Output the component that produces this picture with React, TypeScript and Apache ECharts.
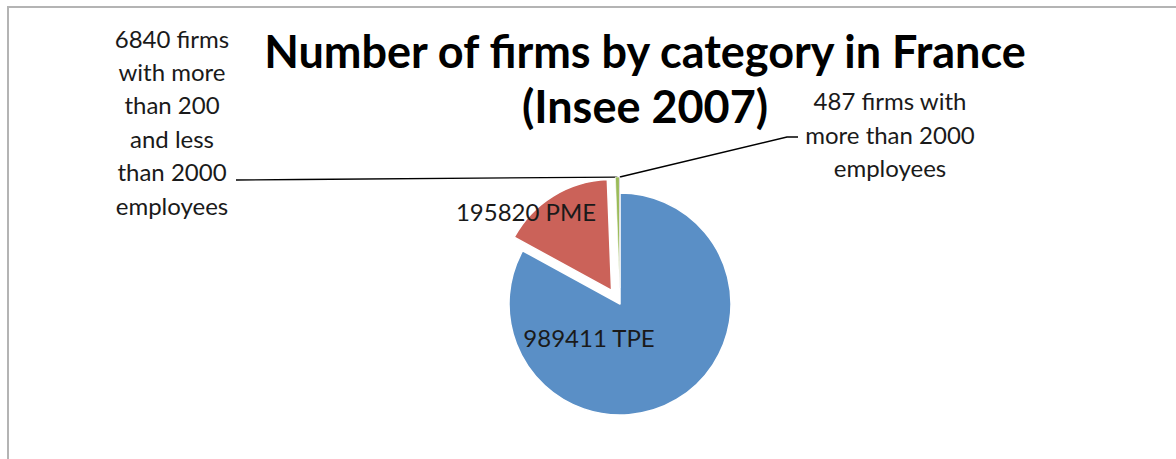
import React, { useEffect, useRef } from "react";
import * as echarts from "echarts";

const categories = ["TPE", "PME", "firms with more than 200 and less than 2000 employees", "firms with more than 2000 employees"];
const values = [989411, 195820, 6840, 487];
const exploded = [false, true, true, true];
const labelTexts = [
  "989411 TPE",
  "195820 PME",
  "6840 firms\nwith more\nthan 200\nand less\nthan 2000\nemployees",
  "487 firms with\nmore than 2000\nemployees",
];
const colors = ["#5A8FC6", "#CB6259", "#9BBB59", "#8064A2"];
const borderWidths = [1.5, 1.5, 0.6, 0.3];
const titleText = "Number of firms by category in France\n(Insee 2007)";

const CENTER = [620, 304];
const RADIUS = 111;
const OFFSET = 16;
// label anchor positions (center of text block)
const labelPos = [
  [589, 337.5],
  [526, 211],
  [172, 121.5],
  [890, 134],
];
const leaderEnds = [
  null,
  null,
  [[300, 179.5], [236, 180]],
  [[787, 137], [798, 137]],
];

function midAngle(i: number) {
  const total = values.reduce((a, b) => a + b, 0);
  let cum = 0;
  for (let k = 0; k < i; k++) cum += values[k];
  return ((cum + values[i] / 2) / total) * Math.PI * 2;
}

function sliceCenter(i: number) {
  const d = exploded[i] ? OFFSET : 0;
  const a = midAngle(i);
  return [CENTER[0] + d * Math.sin(a), CENTER[1] - d * Math.cos(a)];
}

function outerPoint(i: number) {
  const a = midAngle(i);
  const c = sliceCenter(i);
  return [c[0] + RADIUS * Math.sin(a), c[1] - RADIUS * Math.cos(a)];
}

export default function App() {
  const ref = useRef<HTMLDivElement>(null);
  useEffect(() => {
    if (!ref.current) return;
    const chart = echarts.init(ref.current, undefined, { renderer: "svg" });
    const font = "Lato, 'Open Sans', sans-serif";
    const series = values.map((_, s) => ({
      type: "pie",
      center: sliceCenter(s),
      radius: RADIUS,
      startAngle: 90,
      clockwise: true,
      avoidLabelOverlap: false,
      silent: true,
      emphasis: { disabled: true },
      label: {
        fontFamily: font,
        fontSize: 24,
        lineHeight: 33.4,
        color: "#1a1a1a",
        align: "center",
      },
      data: values.map((v, i) => ({
        value: v,
        name: categories[i],
        itemStyle:
          i === s
            ? { color: colors[i], borderColor: "#ffffff", borderWidth: borderWidths[i] }
            : { color: "rgba(0,0,0,0)", borderWidth: 0 },
        label: {
          show: i === s,
          position: i < 2 ? "inside" : "outside",
          formatter: labelTexts[i],
        },
        labelLine: {
          show: i === s && i >= 2,
          lineStyle: { color: "#000000", width: 1.3 },
        },
      })),
      labelLayout: (params: any) => {
        const i = params.dataIndex;
        const res: any = {
          x: labelPos[i][0],
          y: labelPos[i][1],
          align: "center",
          verticalAlign: "middle",
        };
        const ends = leaderEnds[i];
        if (ends) {
          res.labelLinePoints = [outerPoint(i), ends[0], ends[1]];
        }
        return res;
      },
    }));
    chart.setOption({
      animation: false,
      backgroundColor: "#ffffff",
      title: {
        text: titleText,
        left: 640,
        top: 18,
        textAlign: "center",
        textStyle: {
          fontFamily: font,
          fontWeight: "bold",
          fontSize: 45,
          lineHeight: 55,
          color: "#000000",
        },
      },
      graphic: [
        {
          type: "rect",
          shape: { x: 8, y: 7, width: 1300, height: 600 },
          style: { fill: "none", stroke: "#b4b4b4", lineWidth: 2 },
          silent: true,
        },
      ],
      series,
    });
    return () => chart.dispose();
  }, []);
  return (
    <div
      ref={ref}
      style={{ position: "fixed", left: 0, top: 0, width: 1176, height: 459 }}
    />
  );
}
